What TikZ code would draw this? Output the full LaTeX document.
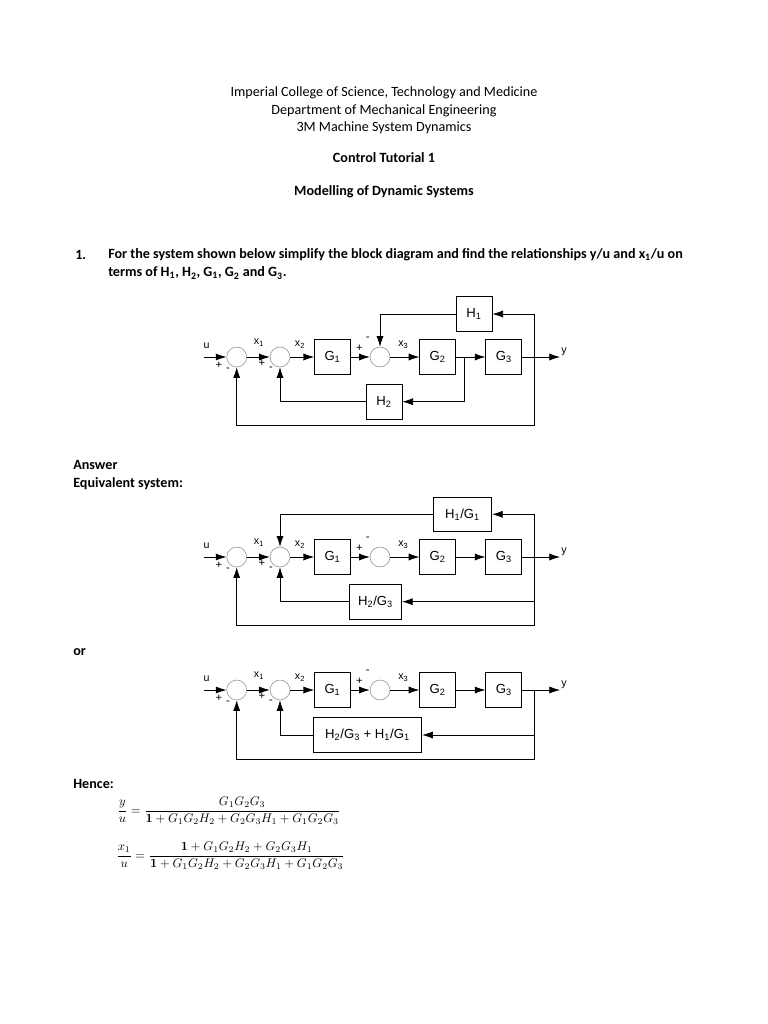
\documentclass[tikz,border=0pt]{standalone}
\usepackage[no-math]{fontspec}
\setmainfont{Carlito}[Scale=1.13]
\newfontfamily\arialfont{Liberation Sans}
\usetikzlibrary{arrows.meta,positioning,calc}

\begin{document}
\begin{tikzpicture}[x=0.02811cm, y=-0.02811cm,
  txt/.style={inner sep=0pt},
  hd/.style={font=\bfseries, anchor=west, inner sep=0pt},
  sumc/.style={circle, draw=black!40, line width=0.5pt, minimum size=5.6mm, inner sep=0pt},
  blk/.style={draw, line width=0.6pt, minimum width=10.1mm, minimum height=9.8mm, inner sep=1pt,
              font=\arialfont\fontsize{10.5}{12}\selectfont},
  ln/.style={line width=0.6pt},
  ar/.style={ln, -{Latex[length=3mm,width=2mm]}},
  sig/.style={font=\arialfont\fontsize{8.5}{10}\selectfont, inner sep=0pt},
  pm/.style={font=\arialfont\fontsize{9}{10}\selectfont, inner sep=0pt}]
\useasboundingbox (0,0) rectangle (768,1024);

% heading
\node[txt] (t1)  at (384,93)  {Imperial College of Science, Technology and Medicine};
\node[txt] (t2)  at (384,111) {Department of Mechanical Engineering};
\node[txt] (t3)  at (384,128) {3M Machine System Dynamics};
\node[txt,font=\bfseries] (ctl) at (384,158) {Control Tutorial 1};
\node[txt,font=\bfseries] (mod) at (384,192) {Modelling of Dynamic Systems};

% question
\node[hd] (num) at (75,255)  {1.};
\node[hd] (q1)  at (108,255) {For the system shown below simplify the block diagram and find the relationships y/u and x\textsubscript{1}/u on};
\node[hd] (q2)  at (108,273) {terms of H\textsubscript{1}, H\textsubscript{2}, G\textsubscript{1}, G\textsubscript{2} and G\textsubscript{3}.};

% original system
\node[sumc] (s1a) at (236.7,357) {};
\node[sumc] (s2a) at (280,357) {};
\node[blk]  (g1a) at (332.5,357) {G\textsubscript{1}};
\node[sumc] (s3a) at (380,357) {};
\node[blk]  (g2a) at (437.7,357) {G\textsubscript{2}};
\node[blk]  (g3a) at (503.8,357) {G\textsubscript{3}};
\node[blk]  (h1a) at (474,314) {H\textsubscript{1}};
\node[blk]  (h2a) at (384,401.7) {H\textsubscript{2}};
\coordinate (ua) at (204,357);
\coordinate (ya) at (560,357);
\coordinate (ra) at (534,357);
\coordinate (ba) at (464.3,357);
\coordinate (bota) at (534,425.5);
\draw[ar] (ua) -- (s1a);
\draw[ar] (s1a) -- (s2a);
\draw[ar] (s2a) -- (g1a);
\draw[ar] (g1a) -- (s3a);
\draw[ar] (s3a) -- (g2a);
\draw[ar] (g2a) -- (g3a);
\draw[ar] (g3a) -- (ya);
\draw[ar] (ra) |- (h1a);
\draw[ar] (h1a) -| (s3a);
\draw[ar] (ba) |- (h2a);
\draw[ar] (h2a) -| (s2a);
\draw[ar] (ra) -- (bota) -| (s1a);
\node[sig] (lua) at (206.7,346) {u};
\node[sig] (lx1a) at (259,343) {x\textsubscript{1}};
\node[sig] (lx2a) at (300,345) {x\textsubscript{2}};
\node[sig] (lx3a) at (403.3,345) {x\textsubscript{3}};
\node[sig] (lya) at (564,352) {y};
\node[pm] at (219,365) {+};   \node[pm] at (228,370) {-};
\node[pm] at (262,363) {+};   \node[pm] at (271,369) {-};
\node[pm] at (359.3,348) {+}; \node[pm] at (367.7,338.5) {-};

\node[hd] (ans) at (73,465) {Answer};
\node[hd] (eqv) at (73,484) {Equivalent system:};

% equivalent system
\begin{scope}[shift={(0,200)}]
\node[sumc] (s1b) at (236.7,357) {};
\node[sumc] (s2b) at (280,357) {};
\node[blk]  (g1b) at (332.5,357) {G\textsubscript{1}};
\node[sumc] (s3b) at (380,357) {};
\node[blk]  (g2b) at (437.7,357) {G\textsubscript{2}};
\node[blk]  (g3b) at (503.8,357) {G\textsubscript{3}};
\node[blk,minimum width=16.4mm,minimum height=9.4mm] (h1b) at (462.5,314.3) {H\textsubscript{1}/G\textsubscript{1}};
\node[blk,minimum width=14.7mm] (h2b) at (375.5,401.7) {H\textsubscript{2}/G\textsubscript{3}};
\coordinate (ub) at (204,357);
\coordinate (yb) at (560,357);
\coordinate (rb) at (534,357);
\coordinate (mb) at (534,401.7);
\coordinate (botb) at (534,425);
\draw[ar] (ub) -- (s1b);
\draw[ar] (s1b) -- (s2b);
\draw[ar] (s2b) -- (g1b);
\draw[ar] (g1b) -- (s3b);
\draw[ar] (s3b) -- (g2b);
\draw[ar] (g2b) -- (g3b);
\draw[ar] (g3b) -- (yb);
\draw[ar] (rb) |- (h1b);
\draw[ar] (h1b) -| (s2b);
\draw[ar] (mb) -- (h2b);
\draw[ar] (h2b) -| (s2b);
\draw[ar] (rb) -- (botb) -| (s1b);
\node[sig] (lub) at (206.7,346) {u};
\node[sig] (lx1b) at (259,343) {x\textsubscript{1}};
\node[sig] (lx2b) at (300,345) {x\textsubscript{2}};
\node[sig] (lx3b) at (403.3,345) {x\textsubscript{3}};
\node[sig] (lyb) at (564,352) {y};
\node[pm] at (219,365) {+};   \node[pm] at (228,370) {-};
\node[pm] at (262,363) {+};   \node[pm] at (271,369) {-};
\node[pm] at (359.3,348) {+}; \node[pm] at (367.7,338.5) {-};
\end{scope}

\node[hd] (or) at (73,652) {or};

% reduced to one feedback path
\begin{scope}[shift={(0,333)}]
\node[sumc] (s1c) at (236.7,357) {};
\node[sumc] (s2c) at (280,357) {};
\node[blk]  (g1c) at (332.5,357) {G\textsubscript{1}};
\node[sumc] (s3c) at (380,357) {};
\node[blk]  (g2c) at (437.7,357) {G\textsubscript{2}};
\node[blk]  (g3c) at (503.8,357) {G\textsubscript{3}};
\node[blk,minimum width=30.5mm] (hc) at (367.5,402) {H\textsubscript{2}/G\textsubscript{3} + H\textsubscript{1}/G\textsubscript{1}};
\coordinate (uc) at (204,357);
\coordinate (yc) at (560,357);
\coordinate (rc) at (534,357);
\coordinate (mc) at (534,402);
\coordinate (botc) at (534,426.3);
\draw[ar] (uc) -- (s1c);
\draw[ar] (s1c) -- (s2c);
\draw[ar] (s2c) -- (g1c);
\draw[ar] (g1c) -- (s3c);
\draw[ar] (s3c) -- (g2c);
\draw[ar] (g2c) -- (g3c);
\draw[ar] (g3c) -- (yc);
\draw[ar] (mc) -- (hc);
\draw[ar] (hc) -| (s2c);
\draw[ar] (rc) -- (botc) -| (s1c);
\node[sig] (luc) at (206.7,346) {u};
\node[sig] (lx1c) at (259,343) {x\textsubscript{1}};
\node[sig] (lx2c) at (300,345) {x\textsubscript{2}};
\node[sig] (lx3c) at (403.3,345) {x\textsubscript{3}};
\node[sig] (lyc) at (564,352) {y};
\node[pm] at (219,365) {+};   \node[pm] at (228,370) {-};
\node[pm] at (262,363) {+};   \node[pm] at (271,369) {-};
\node[pm] at (359.3,348) {+}; \node[pm] at (367.7,338.5) {-};
\end{scope}

% result
\node[hd] (hence) at (73,784) {Hence:};
\node[txt,anchor=west] (eqy) at (117,811)
  {$\displaystyle \frac{y}{u}=\frac{G_1G_2G_3}{\mathbf{1}+G_1G_2H_2+G_2G_3H_1+G_1G_2G_3}$};
\node[txt,anchor=west] (eqx) at (116,856)
  {$\displaystyle \frac{x_1}{u}=\frac{\mathbf{1}+G_1G_2H_2+G_2G_3H_1}{\mathbf{1}+G_1G_2H_2+G_2G_3H_1+G_1G_2G_3}$};
\end{tikzpicture}
\end{document}
